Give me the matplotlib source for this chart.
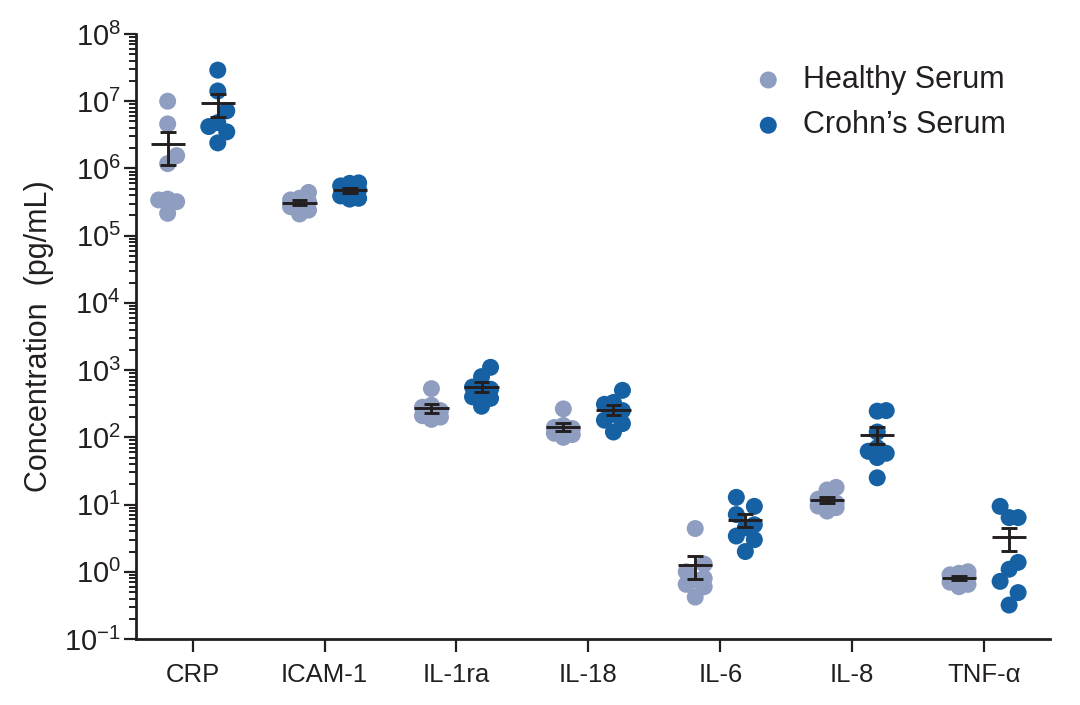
import matplotlib
matplotlib.use("Agg")
import matplotlib.pyplot as plt
from matplotlib.ticker import LogLocator, NullFormatter, FixedLocator
import numpy as np

plt.rcParams['font.family'] = ['Liberation Sans', 'DejaVu Sans']
plt.rcParams['mathtext.default'] = 'regular'

categories = ["CRP", "ICAM-1", "IL-1ra", "IL-18", "IL-6", "IL-8", "TNF-\u03b1"]

# values, pg/mL
healthy = [
    [1.0e7, 4.6e6, 1.55e6, 1.18e6, 3.5e5, 3.4e5, 3.2e5, 2.15e5],
    [4.4e5, 3.6e5, 3.4e5, 3.2e5, 3.0e5, 2.7e5, 2.4e5, 2.1e5],
    [530, 300, 280, 250, 230, 210, 200, 185],
    [265, 150, 140, 135, 125, 115, 110, 100],
    [4.4, 1.3, 1.0, 0.8, 0.75, 0.65, 0.6, 0.42],
    [18, 16.5, 12, 10.5, 10, 9.5, 9, 8],
    [1.0, 0.95, 0.9, 0.85, 0.75, 0.7, 0.65, 0.6],
]
crohns = [
    [2.9e7, 1.42e7, 7.2e6, 4.8e6, 4.2e6, 3.5e6, 2.4e6],
    [6.1e5, 6.0e5, 5.5e5, 4.8e5, 4.3e5, 3.9e5, 3.6e5, 3.5e5],
    [1100, 800, 560, 520, 430, 400, 380, 290],
    [500, 330, 310, 250, 220, 180, 160, 120],
    [12.8, 9.4, 7.1, 5.0, 4.5, 3.4, 3.0, 2.0],
    [250, 245, 120, 70, 62, 58, 50, 25],
    [9.4, 6.4, 6.4, 1.38, 1.09, 0.72, 0.49, 0.32],
]

groups = ["Healthy Serum", "Crohn\u2019s Serum"]
colors = ["#8f9ec0", "#1561a3"]
offsets = [-0.19, 0.19]
ink = "#231f20"
marker_px = 17


def swarm_offsets(ax, values, step_px, free_px):
    # compact swarm: centre if there is room, else the side with most room
    ys = [ax.transData.transform((0, v))[1] for v in values]
    order = np.argsort(ys)
    placed = []
    result = [0.0] * len(values)
    for i in order:
        best_dx, best_d = 0.0, -1.0
        for dx in [0.0, step_px, -step_px]:
            d = min([np.hypot(px - dx, py - ys[i]) for (px, py) in placed] or [1e9])
            if dx == 0.0 and d >= free_px:
                best_dx, best_d = dx, d
                break
            if d > best_d + 0.5:
                best_dx, best_d = dx, d
        placed.append((best_dx, ys[i]))
        result[i] = best_dx
    return result


fig = plt.figure(figsize=(10.8, 7.05), dpi=100)
ax = fig.add_axes([136 / 1080, 1 - 639 / 705, (1050 - 136) / 1080, (639 - 34) / 705])
ax.set_yscale('log')
ax.set_ylim(1e-1, 1e8)
ax.set_xlim(-0.43, 6.5)

x0 = ax.transData.transform((0, 1))[0]
x1 = ax.transData.transform((1, 1))[0]
px_per_unit = x1 - x0

for g in range(2):
    data = healthy if g == 0 else crohns
    for c in range(len(categories)):
        vals = np.array(data[c])
        dxs = swarm_offsets(ax, vals, 9.0, 15.0)
        xs = c + offsets[g] + np.array(dxs) / px_per_unit
        ax.scatter(xs, vals, s=(marker_px * 0.72) ** 2, color=colors[g],
                   edgecolors='none', zorder=2, label=groups[g] if c == 0 else None)

        mean = vals.mean()
        sem = vals.std(ddof=1) / np.sqrt(len(vals))
        xc = c + offsets[g]
        ax.hlines(mean, xc - 0.13, xc + 0.13, color=ink, lw=2.1, zorder=3)
        ax.vlines(xc, mean - sem, mean + sem, color=ink, lw=2.1, zorder=3)
        ax.hlines([mean - sem, mean + sem], xc - 0.06, xc + 0.06, color=ink, lw=2.1, zorder=3)

# axes styling
for side in ['top', 'right']:
    ax.spines[side].set_visible(False)
for side in ['left', 'bottom']:
    ax.spines[side].set_linewidth(2.0)
    ax.spines[side].set_color(ink)

ax.set_xticks(range(len(categories)))
ax.set_xticklabels(categories, fontsize=18.5, color=ink)
ax.tick_params(axis='x', length=9, width=1.6, color=ink, pad=8)

yt = [10.0 ** k for k in range(-1, 9)]
ax.yaxis.set_major_locator(FixedLocator(yt))
ax.set_yticklabels([r'$\mathregular{10^{%d}}$' % k for k in range(-1, 9)], fontsize=21, color=ink)
ax.yaxis.set_minor_locator(LogLocator(base=10, subs=np.arange(2, 10), numticks=100))
ax.yaxis.set_minor_formatter(NullFormatter())
ax.tick_params(axis='y', which='major', length=9, width=1.6, color=ink, pad=2)
ax.tick_params(axis='y', which='minor', length=5, width=1.4, color=ink)

ax.set_ylabel("Concentration  (pg/mL)", fontsize=22, color=ink)
ax.yaxis.set_label_coords(-0.09, 0.5)

leg = ax.legend(loc='upper left', bbox_to_anchor=(753 / 1080, 1 - 65 / 705),
                bbox_transform=fig.transFigure, frameon=False, fontsize=22,
                handlelength=1.0, handletextpad=0.64, labelspacing=0.5,
                borderpad=0, borderaxespad=0, scatterpoints=1)
for t in leg.get_texts():
    t.set_color(ink)

fig.savefig('out.png', dpi=100)
